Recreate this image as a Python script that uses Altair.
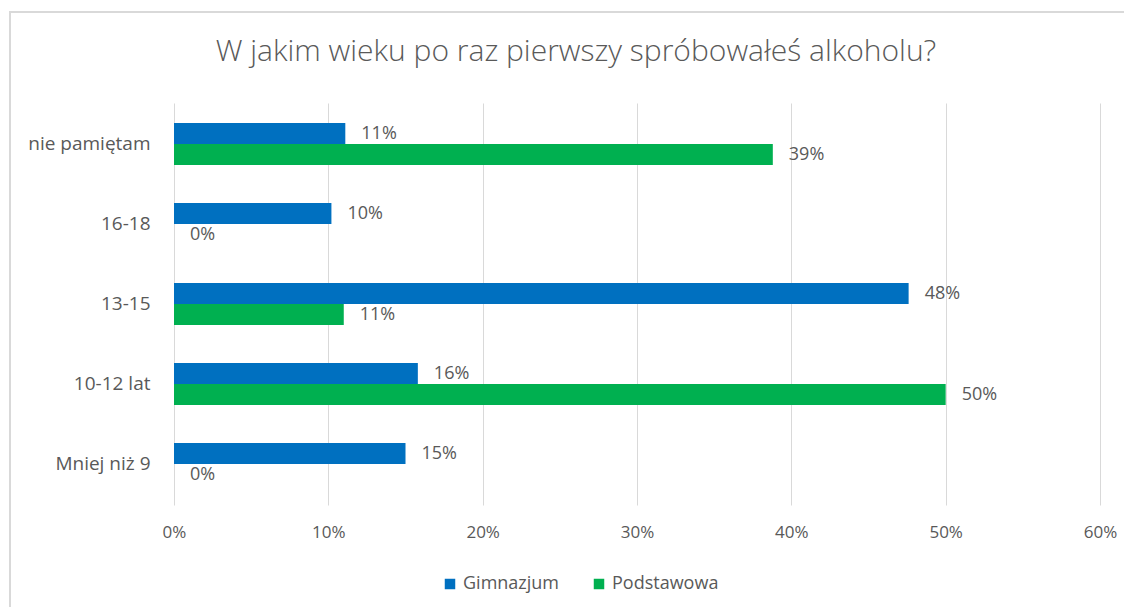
import altair as alt
import pandas as pd

categories = ["nie pamiętam", "16-18", "13-15", "10-12 lat", "Mniej niż 9"]
series = ["Gimnazjum", "Podstawowa"]
gimnazjum = [0.111, 0.102, 0.476, 0.158, 0.150]
podstawowa = [0.388, 0.0, 0.110, 0.500, 0.0]
colors = ["#0070C0", "#00B050"]
x_ticks = [0, 0.1, 0.2, 0.3, 0.4, 0.5, 0.6]

rows = []
for c, g, p in zip(categories, gimnazjum, podstawowa):
    rows.append({"kat": c, "seria": series[0], "v": g})
    rows.append({"kat": c, "seria": series[1], "v": p})
df = pd.DataFrame(rows)

FONT = "Open Sans"
GRAY = "#595959"

y_enc = alt.Y("kat:N", sort=categories, title=None,
              scale=alt.Scale(paddingInner=0.475, paddingOuter=0.25),
              axis=alt.Axis(domain=False, ticks=False, grid=False, labelPadding=24,
                            labelFontSize=19, labelColor=GRAY, labelFont=FONT))
yoff = alt.YOffset("seria:N", sort=series, scale=alt.Scale(paddingInner=0, paddingOuter=0))
x_enc = alt.X("v:Q", title=None,
              scale=alt.Scale(domain=[0, 0.6], nice=False),
              axis=alt.Axis(values=x_ticks, format=".0%", domain=False, ticks=False,
                            labelFlush=False,
                            labelPadding=19, labelFontSize=17, labelColor=GRAY,
                            labelFont=FONT, gridColor="#D9D9D9", gridWidth=1))

bars = alt.Chart(df).mark_bar(size=21).encode(
    y=y_enc, yOffset=yoff, x=x_enc,
    color=alt.Color("seria:N", sort=series, title=None,
                    scale=alt.Scale(domain=series, range=colors),
                    legend=alt.Legend(orient="none", direction="horizontal",
                                      legendX=267, legendY=472,
                                      symbolType="square", symbolSize=110,
                                      symbolStrokeWidth=0,
                                      labelFontSize=18, labelColor=GRAY,
                                      labelFont=FONT, columnPadding=30))
)

labels = alt.Chart(df).mark_text(align="left", baseline="middle", dx=16,
                                 fontSize=18, color=GRAY, font=FONT).encode(
    y=alt.Y("kat:N", sort=categories), yOffset=alt.YOffset("seria:N", sort=series),
    x="v:Q",
    text=alt.Text("v:Q", format=".0%")
)

frame = alt.Chart(df).mark_rect(fill=None, stroke="#D9D9D9", strokeWidth=2).encode(
    x=alt.value(-164), x2=alt.value(1000), y=alt.value(-91), y2=alt.value(700)
)

chart = alt.layer(frame, bars, labels).properties(
    width=926, height=402,
    view=alt.ViewBackground(strokeOpacity=0, strokeWidth=0),
    title=alt.TitleParams("W jakim wieku po raz pierwszy spróbowałeś alkoholu?",
                          fontSize=30, font=FONT, fontWeight=300, color=GRAY,
                          anchor="middle", frame="group", dx=-61, offset=-56),
    autosize=alt.AutoSizeParams(type="none"),
    padding={"left": 166, "top": 95, "right": 24, "bottom": 102},
).configure_view(strokeOpacity=0, strokeWidth=0).configure(background="white")

chart.save("out.html", embed_options={"renderer": "svg", "actions": False})
